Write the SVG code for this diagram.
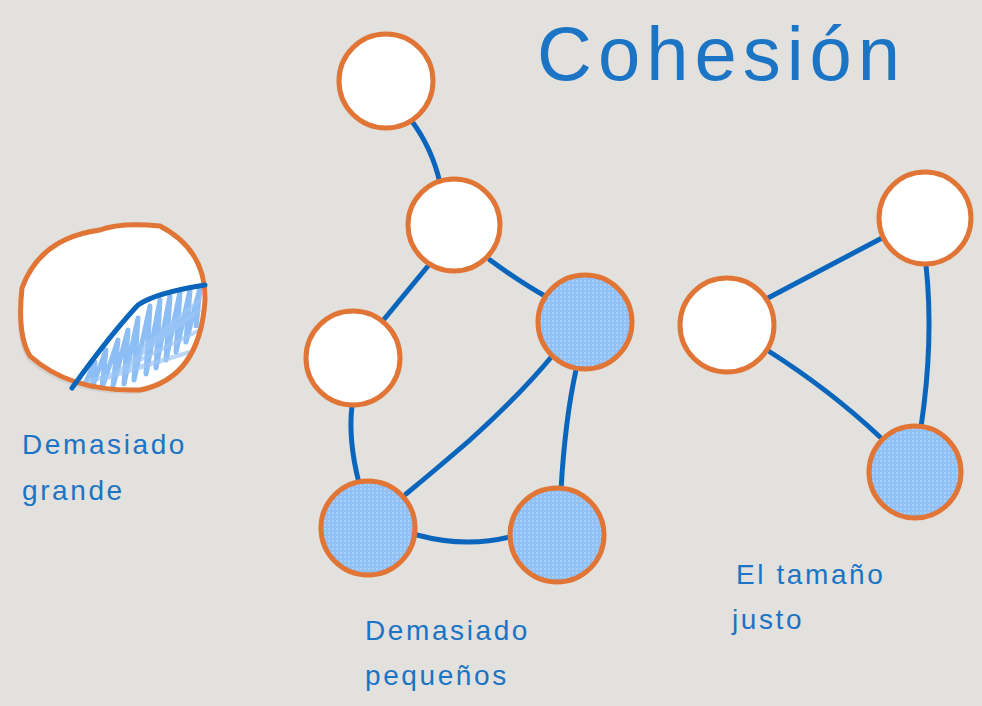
<svg xmlns="http://www.w3.org/2000/svg" width="982" height="706" viewBox="0 0 982 706">
<defs>
<pattern id="dots" width="4" height="4" patternUnits="userSpaceOnUse">
<rect width="4" height="4" fill="#90c0f8"/>
<rect width="2" height="2" fill="#a9cffa"/>
</pattern>
<clipPath id="lens">
<path d="M72,387 Q110,335 140,305 Q160,293 204,285 Q210,330 190,356 Q160,385 100,390 Z"/>
</clipPath>
<style>
.node{stroke:#e07535;stroke-width:5}
.w{fill:#ffffff}
.b{fill:url(#dots)}
.edge{fill:none;stroke:#0a66bd;stroke-width:5;stroke-linecap:round}
.lbl{font-family:"Liberation Sans","DejaVu Sans",sans-serif;font-size:28px;fill:#1b74c4;letter-spacing:2.6px}
.title{font-family:"Liberation Sans","DejaVu Sans",sans-serif;font-size:76px;fill:#1b74c4;letter-spacing:6px}
</style>
</defs>
<rect width="982" height="706" fill="#e3e1de"/>
<g id="connectors">
<path class="edge" d="M411,120 Q432,148 440,183"/>
<path class="edge" d="M428,266 L381,323"/>
<path class="edge" d="M490,260 Q520,282 545,296"/>
<path class="edge" d="M352,406 Q348,440 359,483"/>
<path class="edge" d="M553,355 Q520,395 470,440 Q440,466 406,494"/>
<path class="edge" d="M576,370 Q565,420 561,490"/>
<path class="edge" d="M417,535 Q465,548 510,537"/>
<path class="edge" d="M768,298 L882,238"/>
<path class="edge" d="M926,265 Q934,340 921,427"/>
<path class="edge" d="M767,350 Q830,390 880,437"/>
</g>
<g id="blob">
<path d="M30,356 Q70,392 140,390 Q200,378 205,300 Q206,250 160,226 Q120,222 100,230 Q40,238 22,288 Q17,335 30,356 Z" fill="#d4d2cf" transform="translate(-3,4)"/>
<path d="M30,356 Q70,392 140,390 Q200,378 205,300 Q206,250 160,226 Q120,222 100,230 Q40,238 22,288 Q17,335 30,356 Z" fill="#ffffff"/>
<g clip-path="url(#lens)">
<path d="M84,386 L95,362 L92,388 L106,350 L102,388 L118,340 L113,386 L128,330 L124,384 L138,318 L134,380 L150,306 L146,374 L160,300 L156,368 L170,296 L166,360 L180,292 L176,352 L190,290 L186,342 L200,288 L196,328" fill="none" stroke="#8cbdf4" stroke-width="5" stroke-linejoin="round"/>
<path d="M80,384 L190,352 L100,380 L200,330 L120,370 L200,310 L140,350 L200,300" fill="none" stroke="#9cc6f5" stroke-width="4" opacity="0.7"/>
</g>
<path d="M30,356 Q70,392 140,390 Q200,378 205,300 Q206,250 160,226 Q120,222 100,230 Q40,238 22,288 Q17,335 30,356 Z" fill="none" stroke="#e07535" stroke-width="5"/>
<path class="edge" d="M72,388 Q110,335 138,305 Q155,293 205,285"/>
</g>
<g id="nA"><circle class="node w" cx="386" cy="81" r="47"/></g>
<g id="nB"><circle class="node w" cx="454" cy="225" r="46"/></g>
<g id="nC"><circle class="node w" cx="353" cy="358" r="47"/></g>
<g id="nD"><circle class="node b" cx="585" cy="322" r="47"/></g>
<g id="nE"><circle class="node b" cx="368" cy="528" r="47"/></g>
<g id="nF"><circle class="node b" cx="557" cy="535" r="47"/></g>
<g id="nG"><circle class="node w" cx="727" cy="325" r="47"/></g>
<g id="nH"><circle class="node w" cx="925" cy="218" r="46"/></g>
<g id="nI"><circle class="node b" cx="915" cy="472" r="46"/></g>
<g id="labels">
<text class="title" x="537" y="80">Cohesión</text>
<text class="lbl" x="22" y="454">Demasiado</text>
<text class="lbl" x="22" y="500">grande</text>
<text class="lbl" x="365" y="640">Demasiado</text>
<text class="lbl" x="365" y="685">pequeños</text>
<text class="lbl" x="736" y="584">El tamaño</text>
<text class="lbl" x="732" y="629">justo</text>
</g>
</svg>
